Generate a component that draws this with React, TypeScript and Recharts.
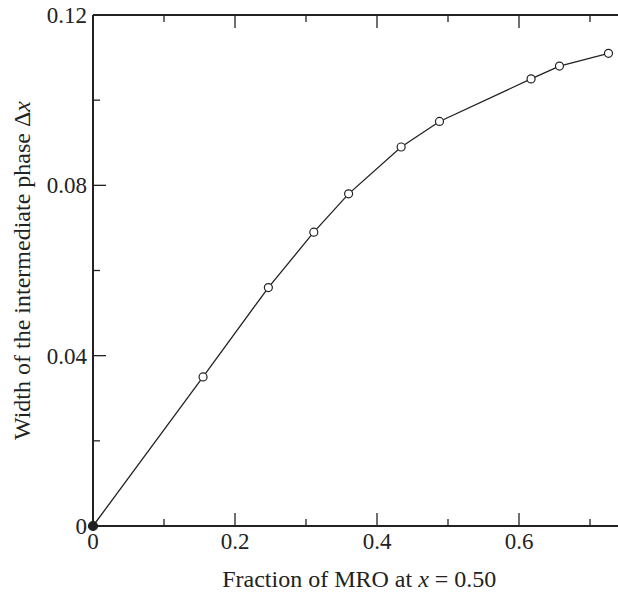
import { Label, Line, LineChart, XAxis, YAxis } from "recharts";

// fraction of MRO (x axis) against width of the intermediate phase (y axis)
const fraction = [0, 0.155, 0.247, 0.311, 0.36, 0.434, 0.488, 0.617, 0.657, 0.726];
const phaseWidth = [0, 0.035, 0.056, 0.069, 0.078, 0.089, 0.095, 0.105, 0.108, 0.111];

const xTicks = [0, 0.1, 0.2, 0.3, 0.4, 0.5, 0.6, 0.7];
const yTicks = [0, 0.02, 0.04, 0.06, 0.08, 0.1, 0.12];

const data = fraction.map((f, i) => ({ fraction: f, width: phaseWidth[i] }));

const font = "'Liberation Serif', 'Times New Roman', serif";
const ink = "#222";
const tickFont = 23;
const titleFont = 24;

const isMajorX = (v: number) => Math.round(v * 10) % 2 === 0;
const isMajorY = (v: number) => Math.round(v * 100) % 4 === 0;
const fmtX = (v: number) => (v === 0 ? "0" : v.toFixed(1));
const fmtY = (v: number) => (v === 0 ? "0" : v.toFixed(2));

function BottomTick(props: any) {
  const { x, y, payload } = props;
  const major = isMajorX(payload.value);
  return (
    <g>
      <line x1={x} y1={y} x2={x} y2={y - (major ? 13 : 7)} stroke={ink} strokeWidth={1.3} />
      {major && (
        <text x={x} y={y + 23} textAnchor="middle" fontFamily={font} fontSize={tickFont} fill={ink}>
          {fmtX(payload.value)}
        </text>
      )}
    </g>
  );
}

function TopTick(props: any) {
  const { x, y, payload } = props;
  const major = isMajorX(payload.value);
  return <line x1={x} y1={y} x2={x} y2={y + (major ? 13 : 7)} stroke={ink} strokeWidth={1.3} />;
}

function LeftTick(props: any) {
  const { x, y, payload } = props;
  const major = isMajorY(payload.value);
  return (
    <g>
      <line x1={x} y1={y} x2={x + (major ? 13 : 7)} y2={y} stroke={ink} strokeWidth={1.3} />
      {major && (
        <text x={x - 6} y={y + 8} textAnchor="end" fontFamily={font} fontSize={tickFont} fill={ink}>
          {fmtY(payload.value)}
        </text>
      )}
    </g>
  );
}

function RightTick(props: any) {
  const { x, y, payload } = props;
  const major = isMajorY(payload.value);
  return <line x1={x} y1={y} x2={x - (major ? 13 : 7)} y2={y} stroke={ink} strokeWidth={1.3} />;
}

function renderDot(props: any) {
  const { cx, cy, index } = props;
  const filled = index === 0;
  return (
    <circle
      key={`dot-${index}`}
      cx={cx}
      cy={cy}
      r={filled ? 4.5 : 4}
      fill={filled ? ink : "#fff"}
      stroke={ink}
      strokeWidth={1.2}
    />
  );
}

function XTitle(props: any) {
  const { x, y, width } = props.viewBox;
  return (
    <text x={x + width / 2} y={y + 61} textAnchor="middle" fontFamily={font} fontSize={titleFont} fill={ink}>
      Fraction of MRO at <tspan fontStyle="italic">x</tspan> = 0.50
    </text>
  );
}

function YTitle(props: any) {
  const { y, height } = props.viewBox;
  const cx = 30;
  const cy = y + height / 2;
  return (
    <text
      x={cx}
      y={cy}
      transform={`rotate(-90 ${cx} ${cy})`}
      textAnchor="middle"
      fontFamily={font}
      fontSize={titleFont}
      fill={ink}
    >
      Width of the intermediate phase Δ<tspan fontStyle="italic">x</tspan>
    </text>
  );
}

export default function App() {
  return (
    <div style={{ position: "fixed", left: 0, top: 0, width: 618, height: 600, overflow: "hidden", background: "#fff" }}>
      <LineChart width={640} height={600} data={data} margin={{ top: 14, right: 13.5, left: 0, bottom: 0 }}>
        <XAxis
          xAxisId="bottom"
          dataKey="fraction"
          type="number"
          domain={[0, 0.75]}
          ticks={xTicks}
          height={74}
          tickSize={0}
          tickMargin={0}
          tickLine={false}
          axisLine={{ stroke: ink, strokeWidth: 2 }}
          tick={<BottomTick />}
          interval={0}
        >
          <Label content={<XTitle />} />
        </XAxis>
        <XAxis
          xAxisId="top"
          orientation="top"
          dataKey="fraction"
          type="number"
          domain={[0, 0.75]}
          ticks={xTicks}
          height={1}
          tickSize={0}
          tickMargin={0}
          tickLine={false}
          axisLine={{ stroke: ink, strokeWidth: 2 }}
          tick={<TopTick />}
          interval={0}
        />
        <YAxis
          yAxisId="left"
          type="number"
          domain={[0, 0.12]}
          ticks={yTicks}
          width={93}
          tickSize={0}
          tickMargin={0}
          tickLine={false}
          axisLine={{ stroke: ink, strokeWidth: 2 }}
          tick={<LeftTick />}
          interval={0}
        >
          <Label content={<YTitle />} />
        </YAxis>
        <YAxis
          yAxisId="right"
          orientation="right"
          type="number"
          domain={[0, 0.12]}
          ticks={yTicks}
          width={1}
          tickSize={0}
          tickMargin={0}
          tickLine={false}
          axisLine={{ stroke: ink, strokeWidth: 2 }}
          tick={<RightTick />}
          interval={0}
        />
        <Line
          xAxisId="bottom"
          yAxisId="left"
          type="linear"
          dataKey="width"
          stroke={ink}
          strokeWidth={1.3}
          dot={renderDot}
          activeDot={false}
          isAnimationActive={false}
        />
      </LineChart>
    </div>
  );
}
